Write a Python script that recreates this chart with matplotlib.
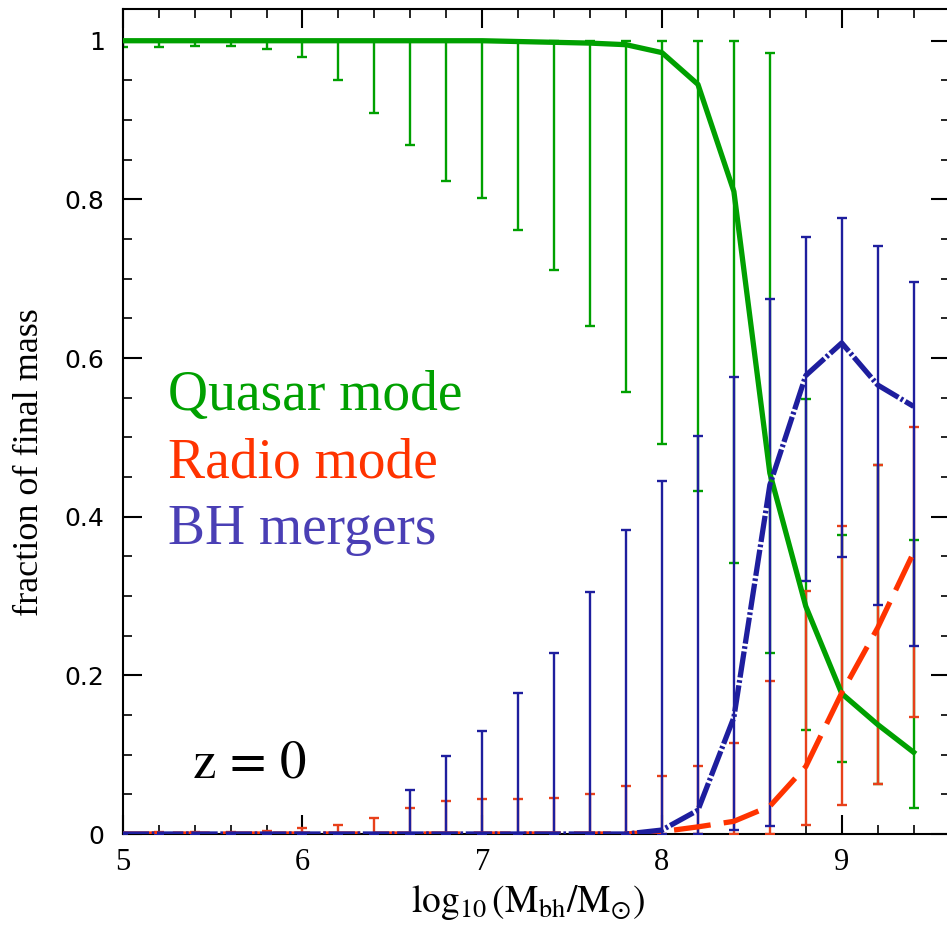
import numpy as np
import matplotlib
matplotlib.use("Agg")
import matplotlib.pyplot as plt
from matplotlib.ticker import MultipleLocator, FuncFormatter

plt.rcParams['mathtext.fontset'] = 'stix'

# log10 black hole mass bins
mass = [5.0, 5.2, 5.4, 5.6, 5.8, 6.0, 6.2, 6.4, 6.6, 6.8, 7.0, 7.2,
        7.4, 7.6, 7.8, 8.0, 8.2, 8.4, 8.6, 8.8, 9.0, 9.2, 9.4]

# quasar mode: median, lower and upper error
quasar = [1.0, 1.0, 1.0, 1.0, 1.0, 1.0, 1.0, 1.0, 1.0, 1.0, 1.0, 0.999,
          0.998, 0.997, 0.995, 0.985, 0.945, 0.81, 0.455, 0.287, 0.177, 0.138, 0.103]
quasar_lo = [0.992, 0.992, 0.993, 0.993, 0.989, 0.979, 0.950, 0.909, 0.869, 0.823, 0.802, 0.761,
             0.711, 0.641, 0.557, 0.492, 0.433, 0.342, 0.228, 0.131, 0.091, 0.063, 0.033]
quasar_hi = [1.0, 1.0, 1.0, 1.0, 1.0, 1.0, 1.0, 1.0, 1.0, 1.0, 1.0, 1.0,
             1.0, 1.0, 1.0, 1.0, 1.0, 1.0, 0.985, 0.548, 0.377, 0.465, 0.370]

# radio mode
radio = [0.0, 0.0, 0.0, 0.0, 0.0, 0.0, 0.0, 0.0, 0.0, 0.0, 0.0, 0.0,
         0.0, 0.0, 0.0, 0.003, 0.009, 0.016, 0.035, 0.085, 0.178, 0.26, 0.355]
radio_lo = [0.0, 0.0, 0.0, 0.0, 0.0, 0.0, 0.0, 0.0, 0.0, 0.0, 0.0, 0.0,
            0.0, 0.0, 0.0, 0.0, 0.0, 0.0, 0.0, 0.011, 0.037, 0.063, 0.147]
radio_hi = [0.001, 0.002, 0.002, 0.002, 0.004, 0.007, 0.011, 0.020, 0.033, 0.042, 0.044, 0.044,
            0.046, 0.050, 0.061, 0.073, 0.086, 0.115, 0.193, 0.306, 0.388, 0.465, 0.513]

# BH mergers
merger = [0.0, 0.0, 0.0, 0.0, 0.0, 0.0, 0.0, 0.0, 0.0, 0.0, 0.0, 0.0,
          0.0, 0.0, 0.0, 0.005, 0.030, 0.147, 0.44, 0.578, 0.619, 0.566, 0.539]
merger_lo = [0.0, 0.0, 0.0, 0.0, 0.0, 0.0, 0.0, 0.0, 0.0, 0.0, 0.0, 0.0,
             0.0, 0.0, 0.0, 0.0, 0.0, 0.005, 0.010, 0.319, 0.349, 0.289, 0.237]
merger_hi = [0.0, 0.0, 0.0, 0.0, 0.0, 0.0, 0.0, 0.0, 0.056, 0.098, 0.130, 0.178,
             0.228, 0.305, 0.383, 0.445, 0.502, 0.576, 0.675, 0.752, 0.777, 0.741, 0.696]

green = '#00a000'
red = '#ff3300'
red_err = '#e8401a'
blue = '#1e1e9e'
blue_txt = '#4a3fb5'

W, H = 947, 930
fig = plt.figure(figsize=(W / 100, H / 100), dpi=100)
ax = fig.add_axes([122.7 / W, (H - 834) / H, (949.6 - 122.7) / W, 825 / H])


def errs(mid, lo, hi):
    mid = np.array(mid)
    return [mid - np.array(lo), np.array(hi) - mid]


eb = dict(fmt='none', elinewidth=1.7, capsize=3.9, capthick=1.7)
ax.errorbar(mass, quasar, yerr=errs(quasar, quasar_lo, quasar_hi), ecolor=green, zorder=2, **eb)
ax.errorbar(mass, radio, yerr=errs(radio, radio_lo, radio_hi), ecolor=red_err, zorder=3, **eb)
ax.errorbar(mass, merger, yerr=errs(merger, merger_lo, merger_hi), ecolor=blue, zorder=4, **eb)

ax.plot(mass, quasar, color=green, lw=3.8, zorder=5)
ax.plot(mass, radio, color=red, lw=3.8, dashes=(7, 2.5), zorder=6)
ax.plot(mass, merger, color=blue, lw=3.8, dashes=(5, 0.5, 0.5, 0.5), zorder=7)

ax.set_xlim(5, 9.6)
ax.set_ylim(0, 1.04)
ax.xaxis.set_major_locator(MultipleLocator(1))
ax.xaxis.set_minor_locator(MultipleLocator(0.2))
ax.yaxis.set_major_locator(MultipleLocator(0.2))
ax.yaxis.set_minor_locator(MultipleLocator(0.05))
ax.yaxis.set_major_formatter(FuncFormatter(lambda v, p: '%g' % round(v, 2)))

ax.tick_params(which='both', direction='in', top=True, right=True, width=1.5)
ax.tick_params(which='major', length=13.7)
ax.tick_params(which='minor', length=6.8, width=1.2)
ax.tick_params(axis='x', pad=10)
ax.tick_params(axis='y', pad=13)
for lab in ax.get_xticklabels():
    lab.set_fontfamily('Liberation Serif')
    lab.set_fontsize(22)
for lab in ax.get_yticklabels():
    lab.set_fontfamily('DejaVu Sans')
    lab.set_fontsize(18)
for s in ax.spines.values():
    s.set_linewidth(1.5)

# labels
fig.text(528 / W, 1 - 912 / H, r'$\log_{10}(\mathrm{M_{bh}/M_{\odot}})$',
         ha='center', va='baseline', fontsize=27)
fig.text(30 / W, 1 - 462 / H, 'fraction of final mass', rotation=90,
         ha='center', va='center', fontsize=26, family='Liberation Serif')

tx = 5.25
ax.text(tx, 0.535, 'Quasar mode', color=green, fontsize=40, family='Liberation Serif', va='baseline')
ax.text(tx, 0.449, 'Radio mode', color=red, fontsize=40, family='Liberation Serif', va='baseline')
ax.text(tx, 0.365, 'BH mergers', color=blue_txt, fontsize=40, family='Liberation Serif', va='baseline')
ax.text(5.385, 0.0707, r'$\mathrm{z}\,=\,0$', fontsize=38, va='baseline')

fig.savefig('out.png', dpi=100)
